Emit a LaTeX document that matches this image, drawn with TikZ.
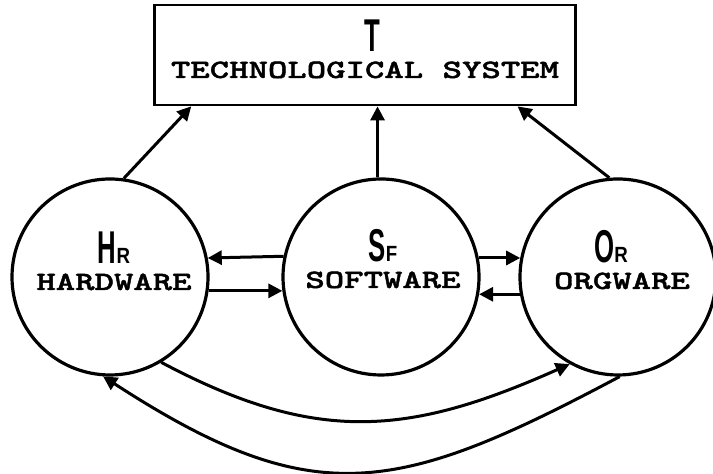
\documentclass[tikz,border=0pt]{standalone}
\usepackage{graphicx}
\usepackage{fontspec}
\setsansfont{Liberation Sans}
\newfontfamily\typefont[FakeStretch=1.4, FakeBold=1.6]{lmmonolt10-bold.otf}
\usepackage{tikz}
\usetikzlibrary{arrows.meta}
\usetikzlibrary{positioning}
\usetikzlibrary{calc}

% tall condensed initial followed by a small capital
\newcommand{\initials}[2]{{\sffamily
  \scalebox{0.56}[1]{\fontsize{23}{24}\bfseries\selectfont #1}%
  \scalebox{0.85}[1]{\fontsize{11}{12}\bfseries\selectfont #2}}}

\tikzset{
  unit/.style={draw, circle, line width=1.6pt, minimum size=98pt, inner sep=0pt},
  sysbox/.style={draw, rectangle, line width=1.4pt, minimum width=210.5pt, minimum height=50pt},
  tag/.style={inner sep=0pt, anchor=base},
  word/.style={inner sep=0pt, anchor=base, font=\typefont\fontsize{13.2}{14}\selectfont},
  flow/.style={line width=1.5pt, -{Triangle[length=7pt,width=7pt]}}
}

\begin{document}
\begin{tikzpicture}
    [x=0.5pt, y=0.5pt]
    \useasboundingbox (0,0) rectangle (713,474);

    \node (sys) [sysbox] at (365,419) {};
    \node (systag) [tag] at (372,422) {\initials{T}{}};
    \node (sysword) [word] at (365,396) {TECHNOLOGICAL SYSTEM};

    \node (hr) [unit] at (110,197) {};
    \node (sf) [unit] at (381,197) {};
    \node (or) [unit] at (618,197) {};

    \node (hrtag) [tag] at (114,210) {\initials{H}{R}};
    \node (hrword) [word] at (114,184) {HARDWARE};
    \node (sftag) [tag] at (383,212) {\initials{S}{F}};
    \node (sfword) [word] at (383,186) {SOFTWARE};
    \node (ortag) [tag] at (611,211) {\initials{O}{R}};
    \node (orword) [word] at (622,185) {ORGWARE};

    % up to the system
    \draw[flow] (hr.82.5) -- ($(sys.south west)!0.09!(sys.south east)$);
    \draw[flow] (sf.92) -- (sf.92 |- sys.south);
    \draw[flow] (or.95) -- ($(sys.south west)!0.86!(sys.south east)$);

    % between neighbours
    \draw[flow] (sf.168.4) -- (hr.11.6);
    \draw[flow] (hr.-8.7) -- (sf.188.7);
    \draw[flow] (sf.11) -- (or.169);
    \draw[flow] (or.190.4) -- (sf.-10.4);

    % around the bottom
    \draw[flow] (hr.-59) to[out=-28, in=-156, looseness=1.1] (or.-119);
    \draw[flow] (or.-89) to[out=-152, in=-33, looseness=1.25] (hr.-94);

  \end{tikzpicture}
\end{document}
